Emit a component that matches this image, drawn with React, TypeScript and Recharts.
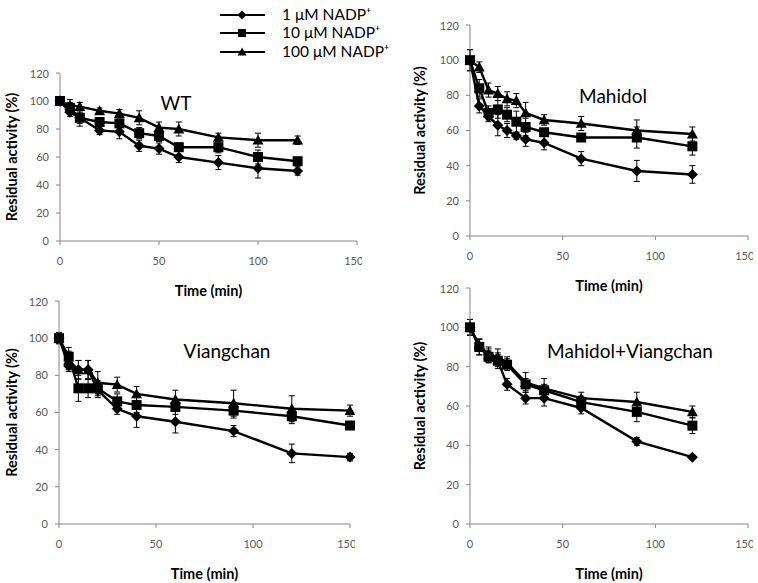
import { ErrorBar, Line, LineChart, XAxis, YAxis } from "recharts";

const FONT = "Lato, 'Open Sans', sans-serif";
const AXIS = "#868686";
const TICK = "#595959";

const SERIES = ["1 μM NADP⁺", "10 μM NADP⁺", "100 μM NADP⁺"];
const Y_TICKS = [0, 20, 40, 60, 80, 100, 120];
const X_TICKS = [0, 50, 100, 150];

// WT
const wtTime = [0, 5, 10, 20, 30, 40, 50, 60, 80, 100, 120];
const wt1 = [100, 92, 88, 79, 78, 68, 66, 60, 56, 52, 50];
const wt10 = [100, 95, 88, 85, 84, 77, 75, 67, 67, 60, 57];
const wt100 = [100, 97, 96, 93, 91, 88, 81, 80, 74, 72, 72];
const wt1Err = [3, 3, 4, 3, 5, 4, 4, 4, 5, 7, 3];
const wt10Err = [3, 4, 6, 3, 3, 4, 4, 3, 4, 5, 2];
const wt100Err = [3, 4, 3, 2, 3, 5, 4, 5, 3, 5, 3];

// Mahidol
const mhTime = [0, 5, 10, 15, 20, 25, 30, 40, 60, 90, 120];
const mh1 = [100, 74, 68, 63, 60, 57, 55, 53, 44, 37, 35];
const mh10 = [100, 84, 70, 72, 69, 65, 62, 59, 56, 56, 51];
const mh100 = [100, 96, 83, 81, 78, 77, 70, 66, 64, 60, 58];
const mh1Err = [6, 4, 3, 6, 4, 2, 4, 4, 4, 6, 5];
const mh10Err = [6, 5, 4, 5, 4, 6, 5, 2, 2, 6, 5];
const mh100Err = [6, 3, 4, 4, 4, 4, 6, 3, 4, 6, 4];

// Viangchan
const vcTime = [0, 5, 10, 15, 20, 30, 40, 60, 90, 120, 150];
const vc1 = [100, 85, 83, 83, 72, 62, 58, 55, 50, 38, 36];
const vc10 = [100, 90, 73, 73, 73, 66, 64, 63, 61, 58, 53];
const vc100 = [100, 88, 83, 83, 76, 75, 70, 67, 65, 62, 61];
const vc1Err = [3, 3, 5, 5, 4, 3, 6, 6, 3, 5, 2];
const vc10Err = [3, 5, 7, 5, 4, 4, 4, 4, 4, 4, 2];
const vc100Err = [2, 5, 5, 5, 6, 4, 4, 5, 7, 7, 3];

// Mahidol+Viangchan
const mvTime = [0, 5, 10, 15, 20, 30, 40, 60, 90, 120];
const mv1 = [100, 90, 86, 83, 71, 64, 64, 59, 42, 34];
const mv10 = [100, 90, 85, 83, 81, 71, 68, 62, 57, 50];
const mv100 = [100, 91, 86, 85, 82, 72, 69, 64, 62, 57];
const mv1Err = [4, 4, 4, 4, 3, 3, 4, 3, 2, 1];
const mv10Err = [4, 4, 3, 3, 3, 3, 3, 3, 5, 4];
const mv100Err = [4, 3, 3, 4, 3, 5, 5, 3, 5, 3];

const build = (time: number[], a: number[], b: number[], c: number[], ea: number[], eb: number[], ec: number[]) =>
  time.map((t, i) => ({ t, a: a[i], b: b[i], c: c[i], ea: ea[i], eb: eb[i], ec: ec[i] }));

const PANELS = [
  {
    name: "WT",
    data: build(wtTime, wt1, wt10, wt100, wt1Err, wt10Err, wt100Err),
    plot: { left: 60, top: 73, w: 297, h: 168 },
    yLabel: 12,
    title: { x: 176, y: 102 },
  },
  {
    name: "Mahidol",
    data: build(mhTime, mh1, mh10, mh100, mh1Err, mh10Err, mh100Err),
    plot: { left: 470, top: 25, w: 278, h: 211 },
    yLabel: 10,
    title: { x: 613, y: 95 },
  },
  {
    name: "Viangchan",
    data: build(vcTime, vc1, vc10, vc100, vc1Err, vc10Err, vc100Err),
    plot: { left: 59, top: 301, w: 291, h: 223 },
    yLabel: 13,
    title: { x: 227, y: 350 },
  },
  {
    name: "Mahidol+Viangchan",
    data: build(mvTime, mv1, mv10, mv100, mv1Err, mv10Err, mv100Err),
    plot: { left: 470, top: 288, w: 278, h: 236 },
    yLabel: 10,
    title: { x: 630, y: 350 },
  },
];

const YW = 60;
const XH = 60;
const M = { top: 5, right: 5, left: 0, bottom: 0 };

function Diamond({ cx, cy, s = 5.5 }: any) {
  if (cx == null || cy == null) return null;
  return <polygon points={`${cx},${cy - s} ${cx + s},${cy} ${cx},${cy + s} ${cx - s},${cy}`} fill="#000" />;
}
function Square({ cx, cy, s = 5 }: any) {
  if (cx == null || cy == null) return null;
  return <rect x={cx - s} y={cy - s} width={s * 2} height={s * 2} fill="#000" />;
}
function Triangle({ cx, cy, s = 5.5 }: any) {
  if (cx == null || cy == null) return null;
  return <polygon points={`${cx},${cy - s} ${cx + s},${cy + s * 0.8} ${cx - s},${cy + s * 0.8}`} fill="#000" />;
}

const MARKERS = [Diamond, Square, Triangle];
const KEYS = ["a", "b", "c"];

function Panel({ p }: { p: (typeof PANELS)[number] }) {
  const width = p.plot.w + YW + M.right;
  const height = p.plot.h + M.top + XH;
  return (
    <div style={{ position: "absolute", left: p.plot.left - YW, top: p.plot.top - M.top }}>
      <LineChart width={width} height={height} data={p.data} margin={M}>
        <XAxis
          type="number"
          dataKey="t"
          domain={[0, 150]}
          ticks={X_TICKS}
          height={XH}
          stroke={AXIS}
          tickSize={4}
          tickMargin={12}
          tick={{ fontSize: 11, fill: TICK, fontFamily: FONT }}
          label={{
            value: "Time (min)",
            position: "insideBottom",
            offset: 5,
            fontSize: 14.5,
            fontWeight: 700,
            fill: "#000",
            fontFamily: FONT,
          }}
        />
        <YAxis
          type="number"
          domain={[0, 120]}
          ticks={Y_TICKS}
          width={YW}
          stroke={AXIS}
          tickSize={4}
          tickMargin={7}
          tick={{ fontSize: 11, fill: TICK, fontFamily: FONT }}
          label={{
            value: "Residual activity (%)",
            angle: -90,
            position: "insideLeft",
            offset: p.yLabel,
            fontSize: 14.5,
            fontWeight: 700,
            fill: "#000",
            fontFamily: FONT,
            style: { textAnchor: "middle" },
          }}
        />
        {KEYS.map((k, i) => {
          const Mk = MARKERS[i];
          return (
            <Line
              key={k}
              dataKey={k}
              name={SERIES[i]}
              stroke="#000"
              strokeWidth={2.4}
              dot={(d: any) => <Mk key={d.index} cx={d.cx} cy={d.cy} />}
              activeDot={false}
              isAnimationActive={false}
            >
              <ErrorBar dataKey={`e${k}`} direction="y" width={3} stroke="#000" strokeWidth={1} />
            </Line>
          );
        })}
      </LineChart>
      <div
        style={{
          position: "absolute",
          left: p.title.x - (p.plot.left - YW),
          top: p.title.y - (p.plot.top - M.top),
          transform: "translate(-50%, -50%)",
          fontFamily: FONT,
          fontSize: 19,
          whiteSpace: "nowrap",
          color: "#000",
        }}
      >
        {p.name}
      </div>
    </div>
  );
}

function Legend() {
  const rows = [15, 33, 52];
  return (
    <svg style={{ position: "absolute", left: 215, top: 0 }} width={200} height={64}>
      {SERIES.map((s, i) => {
        const Mk = MARKERS[i];
        return (
          <g key={s}>
            <line x1={5} x2={50} y1={rows[i]} y2={rows[i]} stroke="#000" strokeWidth={2} />
            <Mk cx={27} cy={rows[i]} s={i === 1 ? 4 : 4.5} />
            <text x={67} y={rows[i]} dy="0.35em" fontSize={15.5} fontFamily={FONT} fill="#000">
              {s}
            </text>
          </g>
        );
      })}
    </svg>
  );
}

export default function App() {
  return (
    <div style={{ position: "absolute", left: 0, top: 0, width: 758, height: 583, background: "#fff", overflow: "hidden" }}>
      {PANELS.map((p) => (
        <Panel key={p.name} p={p} />
      ))}
      <Legend />
    </div>
  );
}
